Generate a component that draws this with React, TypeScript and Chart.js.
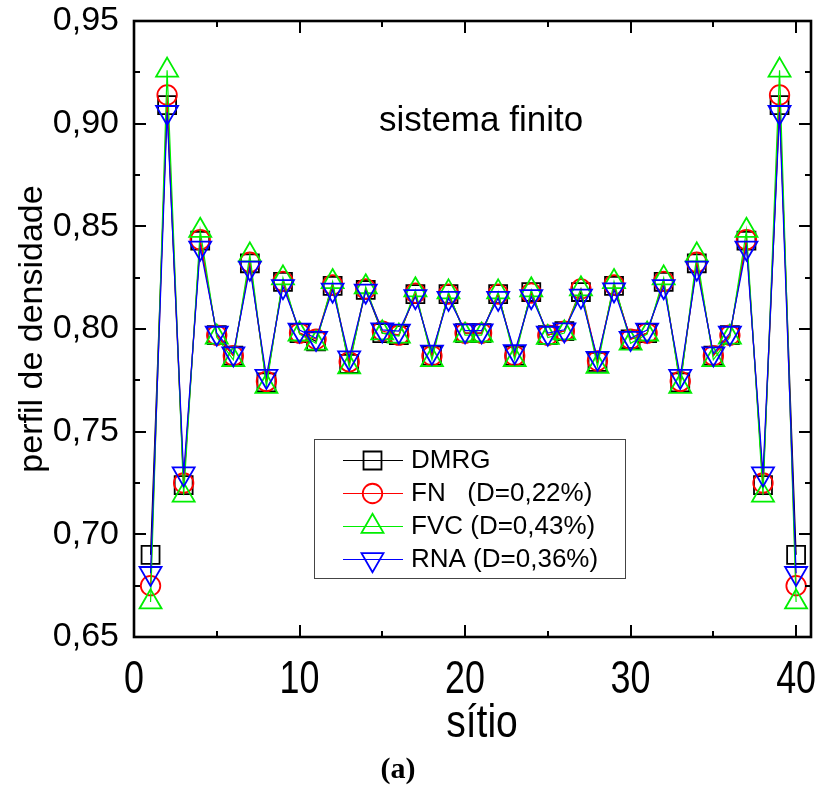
import React, { useEffect, useRef } from 'react';
import { Chart, registerables } from 'chart.js';

Chart.register(...registerables);

// ---------- data ----------
const sites = [
  1, 2, 3, 4, 5, 6, 7, 8, 9, 10,
  11, 12, 13, 14, 15, 16, 17, 18, 19, 20,
  21, 22, 23, 24, 25, 26, 27, 28, 29, 30,
  31, 32, 33, 34, 35, 36, 37, 38, 39, 40,
];

const dmrg = [
  0.690, 0.909, 0.724, 0.843, 0.797, 0.787, 0.832, 0.774, 0.823, 0.798,
  0.794, 0.821, 0.783, 0.819, 0.798, 0.797, 0.817, 0.787, 0.817, 0.798,
  0.798, 0.817, 0.787, 0.818, 0.797, 0.799, 0.818, 0.784, 0.821, 0.795,
  0.798, 0.823, 0.774, 0.832, 0.787, 0.797, 0.843, 0.724, 0.909, 0.690,
];

const fn = [
  0.675, 0.914, 0.725, 0.8435, 0.797, 0.787, 0.8325, 0.7745, 0.8232, 0.798,
  0.795, 0.8215, 0.784, 0.8195, 0.799, 0.797, 0.8175, 0.787, 0.817, 0.798,
  0.798, 0.817, 0.787, 0.8175, 0.797, 0.799, 0.8195, 0.7845, 0.8215, 0.795,
  0.798, 0.8232, 0.7745, 0.8325, 0.787, 0.797, 0.8435, 0.725, 0.914, 0.675,
];

const fvc = [
  0.667, 0.926, 0.719, 0.848, 0.796, 0.785, 0.836, 0.772, 0.8248, 0.7975,
  0.793, 0.823, 0.7815, 0.8205, 0.798, 0.7965, 0.819, 0.785, 0.818, 0.797,
  0.797, 0.818, 0.785, 0.819, 0.7958, 0.798, 0.8195, 0.7817, 0.823, 0.793,
  0.7975, 0.8248, 0.772, 0.836, 0.785, 0.796, 0.848, 0.719, 0.926, 0.667,
];

const rna = [
  0.681, 0.9055, 0.7295, 0.8395, 0.798, 0.788, 0.8297, 0.777, 0.8207, 0.7995,
  0.7955, 0.819, 0.786, 0.8185, 0.7996, 0.799, 0.8158, 0.7888, 0.815, 0.7992,
  0.7992, 0.815, 0.789, 0.8158, 0.798, 0.7996, 0.8161, 0.7858, 0.8191, 0.7955,
  0.7995, 0.8207, 0.777, 0.8297, 0.788, 0.798, 0.8395, 0.7295, 0.9055, 0.681,
];

const xMajorTicks = [0, 10, 20, 30, 40];
const xMinorTicks = [5, 15, 25, 35];
const yMajorTicks = [0.65, 0.70, 0.75, 0.80, 0.85, 0.90, 0.95];
const yMinorTicks = [0.675, 0.725, 0.775, 0.825, 0.875, 0.925];

const seriesLabels = ['DMRG', 'FN   (D=0,22%)', 'FVC (D=0,43%)', 'RNA (D=0,36%)'];
const seriesColors = ['#000000', '#ff0000', '#00ee00', '#0000ff'];
const seriesShapes = ['rect', 'circle', 'triangle', 'triangleDown'];
const seriesRadius = [12.7, 9.75, 12.7, 12.7];

const xTitle = 'sítio';
const yTitle = 'perfil de densidade';
const annotation = 'sistema finito';
const caption = '(a)';

const X_MIN = 0;
const X_MAX = 40.9;
const Y_MIN = 0.65;
const Y_MAX = 0.95;

const SANS = "'Liberation Sans', Arial, sans-serif";

function pts(values: number[]) {
  return sites.map((s, i) => ({ x: s, y: values[i] }));
}

function drawMarker(ctx: CanvasRenderingContext2D, shape: string, cx: number, cy: number, r: number) {
  ctx.beginPath();
  if (shape === 'rect') {
    const h = r * Math.SQRT1_2;
    ctx.rect(cx - h, cy - h, 2 * h, 2 * h);
  } else if (shape === 'circle') {
    ctx.arc(cx, cy, r, 0, Math.PI * 2);
  } else {
    const rot = shape === 'triangleDown' ? Math.PI : 0;
    let a = rot;
    ctx.moveTo(cx + Math.sin(a) * r, cy - Math.cos(a) * r);
    a += (2 * Math.PI) / 3;
    ctx.lineTo(cx + Math.sin(a) * r, cy - Math.cos(a) * r);
    a += (2 * Math.PI) / 3;
    ctx.lineTo(cx + Math.sin(a) * r, cy - Math.cos(a) * r);
    ctx.closePath();
  }
  ctx.stroke();
}

function narrowText(ctx: CanvasRenderingContext2D, text: string, x: number, y: number, sx: number) {
  ctx.save();
  ctx.translate(x, y);
  ctx.scale(sx, 1);
  ctx.fillText(text, 0, 0);
  ctx.restore();
}

const decorPlugin = {
  id: 'decor',
  afterDraw(chart: any) {
    const { ctx, chartArea: a, scales } = chart;
    const xs = scales.x;
    const ys = scales.y;
    ctx.save();

    // tick marks (inward, on all four sides)
    ctx.strokeStyle = '#000';
    ctx.lineWidth = 2;
    const tickX = (v: number, len: number) => {
      const px = Math.round(xs.getPixelForValue(v));
      ctx.beginPath();
      ctx.moveTo(px, a.bottom);
      ctx.lineTo(px, a.bottom - len);
      ctx.moveTo(px, a.top);
      ctx.lineTo(px, a.top + len);
      ctx.stroke();
    };
    const tickY = (v: number, len: number) => {
      const py = Math.round(ys.getPixelForValue(v));
      ctx.beginPath();
      ctx.moveTo(a.left, py);
      ctx.lineTo(a.left + len, py);
      ctx.moveTo(a.right, py);
      ctx.lineTo(a.right - len, py);
      ctx.stroke();
    };
    xMajorTicks.forEach((v) => tickX(v, 12));
    xMinorTicks.forEach((v) => tickX(v, 6));
    yMajorTicks.forEach((v) => tickY(v, 12));
    yMinorTicks.forEach((v) => tickY(v, 6));

    // frame
    ctx.lineWidth = 2.6;
    ctx.strokeRect(a.left, a.top, a.right - a.left, a.bottom - a.top);

    // x tick labels (condensed sans, from the scale's ticks)
    ctx.fillStyle = '#000';
    ctx.font = `46px ${SANS}`;
    ctx.textAlign = 'center';
    ctx.textBaseline = 'alphabetic';
    xs.ticks.forEach((t: any) => {
      narrowText(ctx, String(t.value), xs.getPixelForValue(t.value), 693, 0.78);
    });
    // x title
    ctx.font = `46px ${SANS}`;
    narrowText(ctx, xTitle, 482, 737, 0.85);

    // annotation
    ctx.font = `35px ${SANS}`;
    ctx.textAlign = 'center';
    ctx.fillText(annotation, 481, 131);

    // legend
    const bx = 314.5, by = 439.5, bw = 311, bh = 139;
    ctx.fillStyle = '#fff';
    ctx.fillRect(bx, by, bw, bh);
    ctx.strokeStyle = '#444';
    ctx.lineWidth = 1;
    ctx.strokeRect(bx, by, bw, bh);
    const rows = [460.5, 493.5, 526.5, 559.5];
    ctx.font = `26px ${SANS}`;
    ctx.textAlign = 'left';
    ctx.textBaseline = 'middle';
    seriesLabels.forEach((lab, i) => {
      const yy = rows[i];
      ctx.strokeStyle = seriesColors[i];
      ctx.lineWidth = 1.2;
      ctx.beginPath();
      ctx.moveTo(343, yy);
      ctx.lineTo(403, yy);
      ctx.stroke();
      ctx.lineWidth = 1.8;
      drawMarker(ctx, seriesShapes[i], 372.5, yy, seriesRadius[i]);
      ctx.fillStyle = '#000';
      ctx.fillText(lab, 411, yy);
    });

    // caption
    ctx.font = `bold 30px 'Liberation Serif', 'DejaVu Serif', serif`;
    ctx.textAlign = 'center';
    ctx.textBaseline = 'alphabetic';
    ctx.fillStyle = '#000';
    ctx.fillText(caption, 398, 778);

    ctx.restore();
  },
};

function makeDataset(i: number, values: number[], order: number) {
  const shape = seriesShapes[i];
  return {
    label: seriesLabels[i],
    data: pts(values),
    borderColor: seriesColors[i],
    backgroundColor: 'rgba(0,0,0,0)',
    borderWidth: 1.2,
    pointStyle: shape === 'triangleDown' ? 'triangle' : shape,
    pointRotation: shape === 'triangleDown' ? 180 : 0,
    pointRadius: seriesRadius[i],
    pointBorderWidth: 1.8,
    pointBorderColor: seriesColors[i],
    pointBackgroundColor: 'rgba(0,0,0,0)',
    pointHoverRadius: seriesRadius[i],
    tension: 0,
    fill: false,
    clip: false,
    order,
  };
}

export default function App() {
  const canvasRef = useRef<HTMLCanvasElement | null>(null);

  useEffect(() => {
    const canvas = canvasRef.current;
    if (!canvas) return;
    const chart = new Chart(canvas, {
      type: 'line',
      data: {
        datasets: [
          makeDataset(0, dmrg, 3),
          makeDataset(1, fn, 2),
          makeDataset(2, fvc, 1),
          makeDataset(3, rna, 0),
        ] as any,
      },
      options: {
        animation: false,
        responsive: false,
        devicePixelRatio: 1,
        events: [],
        layout: { autoPadding: false, padding: { left: 0, top: 21, right: 5, bottom: 0 } },
        plugins: {
          legend: { display: false },
          tooltip: { enabled: false },
        },
        scales: {
          x: {
            type: 'linear',
            min: X_MIN,
            max: X_MAX,
            afterFit: (s: any) => {
              s.height = 152;
              s.paddingLeft = 0;
              s.paddingRight = 0;
              s.paddingTop = 0;
              s.paddingBottom = 0;
            },
            afterBuildTicks: (s: any) => {
              s.ticks = xMajorTicks.map((v) => ({ value: v }));
            },
            grid: { display: false, drawTicks: false },
            border: { display: false },
            ticks: { display: false },
            title: { display: false },
          },
          y: {
            type: 'linear',
            min: Y_MIN,
            max: Y_MAX,
            afterFit: (s: any) => {
              s.width = 134;
              s.paddingLeft = 0;
              s.paddingRight = 0;
              s.paddingTop = 0;
              s.paddingBottom = 0;
            },
            afterBuildTicks: (s: any) => {
              s.ticks = yMajorTicks.map((v) => ({ value: v }));
            },
            grid: { display: false, drawTicks: false },
            border: { display: false },
            ticks: {
              padding: 15,
              color: '#000',
              font: { family: SANS, size: 34 },
              callback: (v: any) => Number(v).toFixed(2).replace('.', ','),
            },
            title: {
              display: true,
              text: yTitle,
              color: '#000',
              font: { family: SANS, size: 34 },
              padding: { top: 12, bottom: 0 },
            },
          },
        },
      } as any,
      plugins: [decorPlugin],
    });
    return () => chart.destroy();
  }, []);

  return (
    <div style={{ position: 'absolute', left: 0, top: 0, width: 816, height: 789, background: '#fff' }}>
      <canvas ref={canvasRef} width={816} height={789} style={{ width: 816, height: 789, display: 'block' }} />
    </div>
  );
}
